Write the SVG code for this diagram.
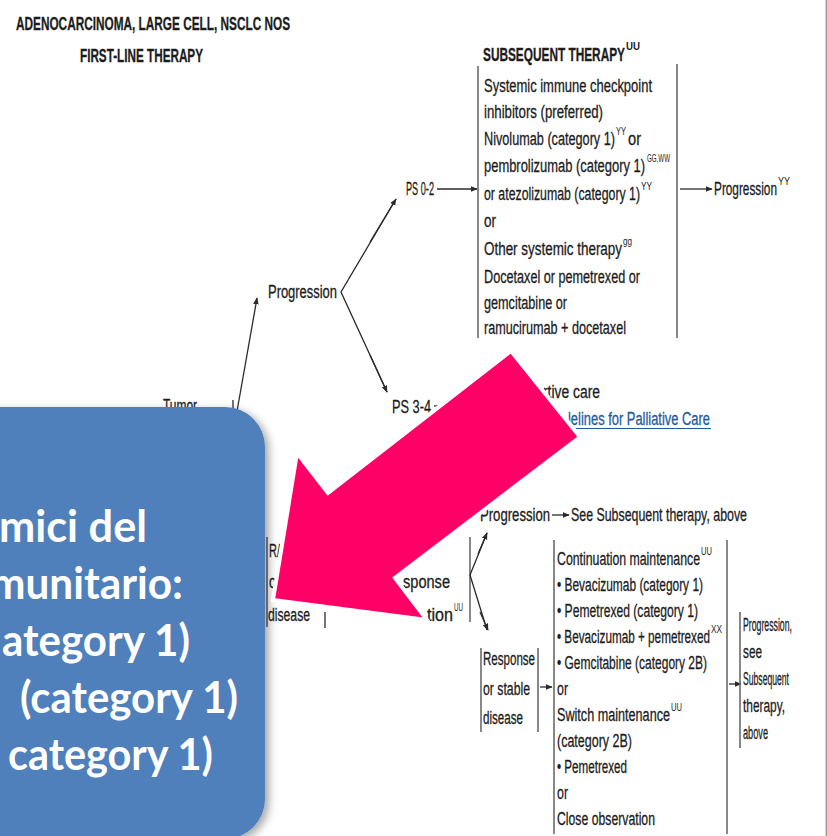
<svg xmlns="http://www.w3.org/2000/svg" width="828" height="836" viewBox="0 0 828 836">
<defs>
<style>
.t{font-family:"Liberation Sans",Arial,sans-serif;font-size:18px;fill:#1c1c1c;stroke:#1c1c1c;stroke-width:0.3}
.h{font-weight:bold}
.s{font-family:"Liberation Sans",Arial,sans-serif;font-size:10px;fill:#1c1c1c}
.lk{fill:#1f5b9e;stroke:#1f5b9e}
.br{stroke:#6a6a6a;stroke-width:1.6;fill:none}
.ln{stroke:#2a2a2a;stroke-width:1.3;fill:none}
.ar{stroke:#2a2a2a;stroke-width:1.3;fill:none;marker-end:url(#ah)}
.bt{font-family:Lato,"Open Sans","Liberation Sans",sans-serif;font-weight:bold;font-size:44px;fill:#ffffff}
</style>
<marker id="ah" viewBox="0 0 10 10" refX="9" refY="5" markerWidth="7" markerHeight="7" markerUnits="userSpaceOnUse" orient="auto">
<path d="M0,1 L10,5 L0,9 Z" fill="#2a2a2a"/>
</marker>
<filter id="sh" x="-10%" y="-10%" width="130%" height="130%">
<feDropShadow dx="4" dy="3" stdDeviation="4" flood-color="#000" flood-opacity="0.35"/>
</filter>
</defs>
<rect x="0" y="0" width="828" height="836" fill="#ffffff"/>
<line x1="826.5" y1="0" x2="826.5" y2="836" stroke="#a0a0a0" stroke-width="2"/>

<g id="header">
<text class="t h" x="16" y="30" font-size="19" textLength="274" lengthAdjust="spacingAndGlyphs">ADENOCARCINOMA, LARGE CELL, NSCLC NOS</text>
<text class="t h" x="80" y="62" font-size="19" textLength="123" lengthAdjust="spacingAndGlyphs">FIRST-LINE THERAPY</text>
</g>

<g id="connectors">
<line class="br" x1="478" y1="66" x2="478" y2="338"/>
<line class="br" x1="677" y1="64" x2="677" y2="338"/>
<line class="ar" x1="437" y1="189" x2="477" y2="189"/>
<line class="ar" x1="680" y1="189" x2="712" y2="189"/>
<polyline class="ln" points="396,199 341,292 387,392"/>
<line class="ar" x1="370" y1="242" x2="396" y2="199"/>
<line class="ar" x1="370" y1="355" x2="387" y2="392"/>
<line class="ar" x1="236" y1="417" x2="257" y2="298"/>
<line class="ln" x1="233" y1="400" x2="233" y2="418"/>
<line class="ln" x1="434" y1="406" x2="442" y2="406"/>
<line class="br" x1="267" y1="537" x2="267" y2="627"/>
<line class="ln" x1="325" y1="612" x2="325" y2="628"/>
<line class="br" x1="470" y1="537" x2="470" y2="622"/>
<polyline class="ln" points="487,533 470,575 487,630"/>
<line class="ar" x1="478" y1="554" x2="487" y2="533"/>
<line class="ar" x1="480" y1="612" x2="488" y2="630"/>
<line class="ar" x1="552" y1="515" x2="569" y2="515"/>
<line class="br" x1="481" y1="648" x2="481" y2="732"/>
<line class="br" x1="538" y1="648" x2="538" y2="732"/>
<line class="ar" x1="540" y1="687" x2="552" y2="687"/>
<line class="br" x1="554" y1="540" x2="554" y2="834"/>
<line class="br" x1="727" y1="540" x2="727" y2="834"/>
<line class="ar" x1="729" y1="684" x2="741" y2="684"/>
<line class="br" x1="740" y1="612" x2="740" y2="748"/>
</g>

<g id="subsequent">
<text class="t h" x="483" y="61" textLength="142" lengthAdjust="spacingAndGlyphs">SUBSEQUENT THERAPY</text>
<text class="s h" x="626" y="50" textLength="14" lengthAdjust="spacingAndGlyphs">UU</text>
<text class="t" x="484" y="92" textLength="168" lengthAdjust="spacingAndGlyphs">Systemic immune checkpoint</text>
<text class="t" x="484" y="118" textLength="119" lengthAdjust="spacingAndGlyphs">inhibitors (preferred)</text>
<text class="t" x="484" y="145" textLength="131" lengthAdjust="spacingAndGlyphs">Nivolumab (category 1)</text>
<text class="s" x="616" y="135" textLength="10" lengthAdjust="spacingAndGlyphs">YY</text>
<text class="t" x="628" y="145" textLength="13" lengthAdjust="spacingAndGlyphs">or</text>
<text class="t" x="484" y="172" textLength="161" lengthAdjust="spacingAndGlyphs">pembrolizumab (category 1)</text>
<text class="s" x="647" y="162" textLength="23" lengthAdjust="spacingAndGlyphs">GG,WW</text>
<text class="t" x="484" y="200" textLength="156" lengthAdjust="spacingAndGlyphs">or atezolizumab (category 1)</text>
<text class="s" x="641" y="190" textLength="11" lengthAdjust="spacingAndGlyphs">YY</text>
<text class="t" x="484" y="227" textLength="12" lengthAdjust="spacingAndGlyphs">or</text>
<text class="t" x="484" y="255" textLength="138" lengthAdjust="spacingAndGlyphs">Other systemic therapy</text>
<text class="s" x="623" y="245" textLength="9" lengthAdjust="spacingAndGlyphs">gg</text>
<text class="t" x="484" y="283" textLength="156" lengthAdjust="spacingAndGlyphs">Docetaxel or pemetrexed or</text>
<text class="t" x="484" y="309" textLength="83" lengthAdjust="spacingAndGlyphs">gemcitabine or</text>
<text class="t" x="484" y="334" textLength="142" lengthAdjust="spacingAndGlyphs">ramucirumab + docetaxel</text>
</g>

<g id="ps02">
<text class="t" x="406" y="195" textLength="28" lengthAdjust="spacingAndGlyphs">PS 0-2</text>
</g>
<g id="progression-yy">
<text class="t" x="714" y="195" textLength="63" lengthAdjust="spacingAndGlyphs">Progression</text>
<text class="s" x="778" y="185" textLength="12" lengthAdjust="spacingAndGlyphs">YY</text>
</g>
<g id="progression1">
<text class="t" x="268" y="298" textLength="69" lengthAdjust="spacingAndGlyphs">Progression</text>
</g>
<g id="tumor">
<text class="t" x="163" y="412" textLength="34" lengthAdjust="spacingAndGlyphs">Tumor</text>
</g>
<g id="ps34">
<text class="t" x="392" y="413" textLength="39" lengthAdjust="spacingAndGlyphs">PS 3-4</text>
</g>
<g id="palliative">
<text class="t" x="543" y="398" textLength="57" lengthAdjust="spacingAndGlyphs">rtive care</text>
<text class="t lk" x="568" y="425" textLength="142" lengthAdjust="spacingAndGlyphs">lelines for Palliative Care</text>
<line x1="566" y1="428.5" x2="711" y2="428.5" stroke="#1f5b9e" stroke-width="1.2"/>
</g>

<g id="response-assess">
<text class="t" x="269" y="557" textLength="11" lengthAdjust="spacingAndGlyphs">R/</text>
<text class="t" x="269" y="588" textLength="7" lengthAdjust="spacingAndGlyphs">o</text>
<text class="t" x="268" y="621" textLength="42" lengthAdjust="spacingAndGlyphs">disease</text>
<text class="t" x="403" y="588" textLength="47" lengthAdjust="spacingAndGlyphs">sponse</text>
<text class="t" x="427" y="621" textLength="26" lengthAdjust="spacingAndGlyphs">tion</text>
<text class="s" x="454" y="611" textLength="9" lengthAdjust="spacingAndGlyphs">UU</text>
</g>

<g id="progression2">
<text class="t" x="480" y="521" textLength="70" lengthAdjust="spacingAndGlyphs">Progression</text>
<text class="t" x="571" y="521" textLength="176" lengthAdjust="spacingAndGlyphs">See Subsequent therapy, above</text>
</g>

<g id="response">
<text class="t" x="483" y="665" textLength="52" lengthAdjust="spacingAndGlyphs">Response</text>
<text class="t" x="483" y="695" textLength="47" lengthAdjust="spacingAndGlyphs">or stable</text>
<text class="t" x="483" y="724" textLength="40" lengthAdjust="spacingAndGlyphs">disease</text>
</g>

<g id="maintenance">
<text class="t" x="557" y="565" textLength="143" lengthAdjust="spacingAndGlyphs">Continuation maintenance</text>
<text class="s" x="701" y="555" textLength="11" lengthAdjust="spacingAndGlyphs">UU</text>
<text class="t" x="557" y="591" textLength="146" lengthAdjust="spacingAndGlyphs">• Bevacizumab (category 1)</text>
<text class="t" x="557" y="617" textLength="141" lengthAdjust="spacingAndGlyphs">• Pemetrexed (category 1)</text>
<text class="t" x="557" y="643" textLength="153" lengthAdjust="spacingAndGlyphs">• Bevacizumab + pemetrexed</text>
<text class="s" x="711" y="633" textLength="11" lengthAdjust="spacingAndGlyphs">XX</text>
<text class="t" x="557" y="669" textLength="150" lengthAdjust="spacingAndGlyphs">• Gemcitabine (category 2B)</text>
<text class="t" x="557" y="695" textLength="11" lengthAdjust="spacingAndGlyphs">or</text>
<text class="t" x="557" y="721" textLength="113" lengthAdjust="spacingAndGlyphs">Switch maintenance</text>
<text class="s" x="671" y="711" textLength="11" lengthAdjust="spacingAndGlyphs">UU</text>
<text class="t" x="557" y="747" textLength="75" lengthAdjust="spacingAndGlyphs">(category 2B)</text>
<text class="t" x="557" y="773" textLength="70" lengthAdjust="spacingAndGlyphs">• Pemetrexed</text>
<text class="t" x="557" y="799" textLength="11" lengthAdjust="spacingAndGlyphs">or</text>
<text class="t" x="557" y="825" textLength="98" lengthAdjust="spacingAndGlyphs">Close observation</text>
</g>

<g id="progression3">
<text class="t" x="743" y="631" textLength="49" lengthAdjust="spacingAndGlyphs">Progression,</text>
<text class="t" x="743" y="658" textLength="19" lengthAdjust="spacingAndGlyphs">see</text>
<text class="t" x="743" y="685" textLength="46" lengthAdjust="spacingAndGlyphs">Subsequent</text>
<text class="t" x="743" y="712" textLength="42" lengthAdjust="spacingAndGlyphs">therapy,</text>
<text class="t" x="743" y="739" textLength="25" lengthAdjust="spacingAndGlyphs">above</text>
</g>

<g id="blue-callout">
<rect x="-60" y="407" width="325" height="432" rx="40" ry="40" fill="#4f80bc" filter="url(#sh)"/>
<text class="bt" x="-1" y="542" textLength="148" lengthAdjust="spacingAndGlyphs">mici del</text>
<text class="bt" x="-10" y="599" textLength="193" lengthAdjust="spacingAndGlyphs">munitario:</text>
<text class="bt" x="2" y="656" textLength="188" lengthAdjust="spacingAndGlyphs">ategory 1)</text>
<text class="bt" x="20" y="713" textLength="218" lengthAdjust="spacingAndGlyphs">(category 1)</text>
<text class="bt" x="8" y="770" textLength="205" lengthAdjust="spacingAndGlyphs">category 1)</text>
</g>

<g id="pink-arrow">
<polygon points="511,351 580,437 395,578 427,620 273,600 297,453 328,493" fill="#ff0066" stroke="#ffffff" stroke-width="4" stroke-linejoin="miter"/>
</g>
</svg>
